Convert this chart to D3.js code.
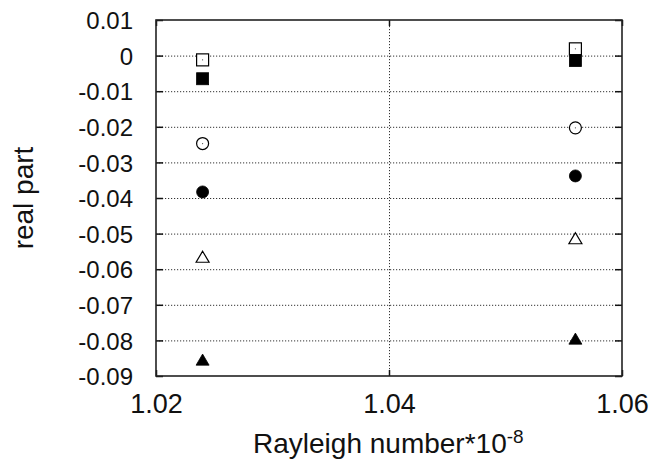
<!DOCTYPE html>
<html>
<head>
<meta charset="utf-8">
<script src="https://cdn.jsdelivr.net/npm/d3@7"></script>
<style>
  html, body { margin: 0; padding: 0; background: #fff; }
  svg { display: block; font-family: "Liberation Sans", Arial, Helvetica, sans-serif; }
</style>
</head>
<body>
<svg id="chart" width="652" height="467"></svg>
<script>
// ---- data ----
const rayleigh = [1.024, 1.056];
const openSquare     = [-0.0012, 0.0019];
const filledSquare   = [-0.0065, -0.0014];
const openCircle     = [-0.0247, -0.0203];
const filledCircle   = [-0.0383, -0.0338];
const openTriangle   = [-0.0565, -0.0513];
const filledTriangle = [-0.0854, -0.0795];

const xTicks = [1.02, 1.04, 1.06];
const xTickLabels = ["1.02", "1.04", "1.06"];
const yTicks = [0.01, 0, -0.01, -0.02, -0.03, -0.04, -0.05, -0.06, -0.07, -0.08, -0.09];
const yTickLabels = ["0.01", "0", "-0.01", "-0.02", "-0.03", "-0.04", "-0.05", "-0.06", "-0.07", "-0.08", "-0.09"];

const seriesList = [
  { name: "openSquare", values: openSquare, shape: "square", filled: false },
  { name: "filledSquare", values: filledSquare, shape: "square", filled: true },
  { name: "openCircle", values: openCircle, shape: "circle", filled: false },
  { name: "filledCircle", values: filledCircle, shape: "circle", filled: true },
  { name: "openTriangle", values: openTriangle, shape: "triangle", filled: false },
  { name: "filledTriangle", values: filledTriangle, shape: "triangle", filled: true }
];

// ---- layout ----
const margin = { left: 156, top: 20, right: 30, bottom: 91 };
const W = 652, H = 467;
const iw = W - margin.left - margin.right;   // 466
const ih = H - margin.top - margin.bottom;   // 356

const svg = d3.select("#chart");
const g = svg.append("g").attr("transform", `translate(${margin.left},${margin.top})`);

const x = d3.scaleLinear().domain([1.02, 1.06]).range([0, iw]);
const y = d3.scaleLinear().domain([-0.09, 0.01]).range([ih, 0]);

// grid lines (dotted)
const gridY = g.append("g").attr("class", "grid-y")
  .call(d3.axisLeft(y).tickValues(yTicks.filter(v => v !== 0.01 && v !== -0.09)).tickSize(-iw).tickFormat(""));
gridY.select(".domain").remove();
gridY.selectAll("line").attr("stroke", "#333").attr("stroke-width", 1).attr("stroke-dasharray", "1.2,1.8");

const gridX = g.append("g").attr("class", "grid-x")
  .call(d3.axisBottom(x).tickValues([1.04]).tickSize(ih).tickFormat(""));
gridX.select(".domain").remove();
gridX.selectAll("line").attr("stroke", "#333").attr("stroke-width", 1).attr("stroke-dasharray", "1.2,1.8");

// axes with inward ticks
const fmtY = d => yTickLabels[yTicks.indexOf(d)];
const fmtX = d => xTickLabels[xTicks.indexOf(d)];

const yAxisL = g.append("g")
  .call(d3.axisLeft(y).tickValues(yTicks).tickSizeInner(-7).tickSizeOuter(0).tickPadding(23).tickFormat(fmtY));
const yAxisR = g.append("g").attr("transform", `translate(${iw},0)`)
  .call(d3.axisRight(y).tickValues(yTicks).tickSizeInner(-7).tickSizeOuter(0).tickFormat(""));
const xAxisB = g.append("g").attr("transform", `translate(0,${ih})`)
  .call(d3.axisBottom(x).tickValues(xTicks).tickSizeInner(-6).tickSizeOuter(0).tickPadding(18).tickFormat(fmtX));
const xAxisT = g.append("g")
  .call(d3.axisTop(x).tickValues(xTicks).tickSizeInner(-6).tickSizeOuter(0).tickFormat(""));

[yAxisL, yAxisR, xAxisB, xAxisT].forEach(a => {
  a.select(".domain").remove();
  a.selectAll("line").attr("stroke", "#111").attr("stroke-width", 1.5);
});
yAxisL.selectAll("text").attr("font-size", 24).attr("fill", "#111").attr("dy", "0.36em")
  .attr("font-family", "Liberation Sans, Arial, sans-serif");
xAxisB.selectAll("text").attr("font-size", 27).attr("fill", "#111").attr("dy", "0.71em")
  .attr("font-family", "Liberation Sans, Arial, sans-serif");

// frame
g.append("rect").attr("x", 0).attr("y", 0).attr("width", iw).attr("height", ih)
  .attr("fill", "none").attr("stroke", "#222").attr("stroke-width", 1.6);

// markers
const S = 12; // marker size
function trianglePath(s) {
  const h = s * 0.85;
  return `M0,${-h / 2}L${s / 2},${h / 2}L${-s / 2},${h / 2}Z`;
}
seriesList.forEach(s => {
  const pts = s.values.map((v, i) => ({ x: rayleigh[i], y: v }));
  const grp = g.append("g").attr("class", s.name);
  const sel = grp.selectAll("g").data(pts).join("g")
    .attr("transform", d => `translate(${x(d.x)},${y(d.y)})`);
  const fill = s.filled ? "#000" : "#fff";
  const sw = s.filled ? 0.8 : 1.2;
  if (s.shape === "square") {
    sel.append("rect").attr("x", -S / 2).attr("y", -S / 2).attr("width", S).attr("height", S)
      .attr("fill", fill).attr("stroke", "#000").attr("stroke-width", sw);
  } else if (s.shape === "circle") {
    sel.append("circle").attr("r", S / 2)
      .attr("fill", fill).attr("stroke", "#000").attr("stroke-width", sw);
  } else {
    sel.append("path").attr("d", trianglePath(S + 1))
      .attr("fill", fill).attr("stroke", "#000").attr("stroke-width", sw).attr("stroke-linejoin", "miter");
  }
  if (!s.filled && s.shape !== "triangle") {
    sel.append("circle").attr("r", 0.6).attr("fill", "#444");
  }
});

// axis titles
svg.append("text")
  .attr("x", 253).attr("y", 453)
  .attr("font-size", 28).attr("fill", "#111")
  .text("Rayleigh number*10")
  .append("tspan").attr("dy", -10).attr("font-size", 19).text("-8");

svg.append("text")
  .attr("transform", `translate(33,${margin.top + ih / 2}) rotate(-90)`)
  .attr("text-anchor", "middle")
  .attr("font-size", 28).attr("fill", "#111")
  .text("real part");
</script>
</body>
</html>
